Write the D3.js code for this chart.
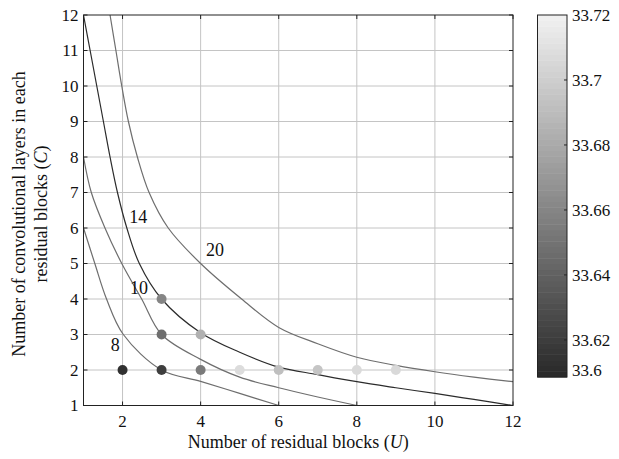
<!DOCTYPE html>
<html>
<head>
<meta charset="utf-8">
<script src="https://cdn.jsdelivr.net/npm/d3@7"></script>
<style>
  body { margin: 0; background: #fff; }
  text { font-family: "Liberation Serif", "Times New Roman", serif; fill: #111; }
</style>
</head>
<body>
<div id="chart"></div>
<script>

let width = 619;
let height = 459;

// contour lines of network depth (U, C)
const curve8 = [[1, 6], [1.29, 5], [1.59, 4], [2.02, 3], [3, 2], [4, 1.68], [5, 1.34], [6, 1]];
const curve10 = [[1, 8], [1.2, 7], [1.55, 6], [1.98, 5], [2.49, 4], [3, 3], [4, 2.3], [5, 1.8], [6, 1.5], [7, 1.24], [8, 1]];
const curve14 = [[1, 12], [1.17, 11], [1.34, 10], [1.51, 9], [1.68, 8], [1.87, 7], [2.11, 6], [2.43, 5], [3, 4], [4, 3.05],
    [5, 2.5], [6, 2.08], [7, 1.87], [8, 1.67], [9, 1.5], [10, 1.34], [11, 1.17], [12, 1]];
const curve20 = [[1.68, 12], [1.83, 11], [1.98, 10], [2.15, 9], [2.38, 8], [2.68, 7], [3.17, 6], [4.0, 5], [5.05, 4],
    [6, 3.2], [7, 2.74], [8, 2.36], [9, 2.13], [10, 1.95], [11, 1.8], [12, 1.67]];

const contourLevels = [8, 10, 14, 20];
const contourLines = [curve8, curve10, curve14, curve20];
const labelU = [1.81, 2.42, 2.40, 4.37];
const labelC = [2.70, 4.33, 6.33, 5.38];

// tested configurations and their score (colour)
const pointU = [2, 3, 4, 5, 6, 7, 8, 9, 3, 4, 3];
const pointC = [2, 2, 2, 2, 2, 2, 2, 2, 3, 3, 4];
const pointValue = [33.613, 33.621, 33.654, 33.708, 33.692, 33.695, 33.707, 33.706, 33.647, 33.684, 33.660];

const xTicks = [2, 4, 6, 8, 10, 12];
const yTicks = [1, 2, 3, 4, 5, 6, 7, 8, 9, 10, 11, 12];
const cbMin = 33.6086;
const cbMax = 33.72;
const cbTicks = [33.62, 33.64, 33.66, 33.68, 33.7, 33.72];

let svg = d3.select("#chart")
    .append("svg")
    .attr("width", width)
    .attr("height", height);

let plot = { left: 83.5, right: 513, top: 15, bottom: 405.5 };

let scaleX = d3.scaleLinear().domain([1, 12]).range([plot.left, plot.right]);
let scaleY = d3.scaleLinear().domain([1, 12]).range([plot.bottom, plot.top]);

let cb = { left: 537.5, right: 567, top: 15, bottom: 377 };
let scaleCb = d3.scaleLinear().domain([cbMin, cbMax]).range([cb.bottom, cb.top]);
let gray = d3.scaleLinear().domain([cbMin, cbMax]).range(["rgb(40,40,40)", "rgb(242,242,242)"]);

// grid
svg.append("g")
    .selectAll("line.gx")
    .data(xTicks.filter(d => d < 12))
    .join("line")
    .attr("x1", d => scaleX(d)).attr("x2", d => scaleX(d))
    .attr("y1", plot.top).attr("y2", plot.bottom)
    .attr("stroke", "#c4c4c4").attr("stroke-width", 1);

svg.append("g")
    .selectAll("line.gy")
    .data(yTicks.filter(d => d > 1 && d < 12))
    .join("line")
    .attr("x1", plot.left).attr("x2", plot.right)
    .attr("y1", d => scaleY(d)).attr("y2", d => scaleY(d))
    .attr("stroke", "#c4c4c4").attr("stroke-width", 1);

// contour lines
let line = d3.line()
    .x(d => scaleX(d[0]))
    .y(d => scaleY(d[1]))
    .curve(d3.curveCatmullRom.alpha(0.5));

svg.append("g")
    .selectAll("path")
    .data(contourLines)
    .join("path")
    .attr("d", line)
    .attr("fill", "none")
    .attr("stroke", (d, i) => contourLevels[i] === 14 ? "#2b2b2b" : "#6e6e6e")
    .attr("stroke-width", 1.2);

svg.append("g")
    .selectAll("text")
    .data(contourLevels)
    .join("text")
    .attr("x", (d, i) => scaleX(labelU[i]))
    .attr("y", (d, i) => scaleY(labelC[i]))
    .attr("dy", "0.35em")
    .attr("text-anchor", "middle")
    .attr("font-size", 18)
    .text(d => d);

// points
svg.append("g")
    .selectAll("circle")
    .data(pointValue)
    .join("circle")
    .attr("cx", (d, i) => scaleX(pointU[i]))
    .attr("cy", (d, i) => scaleY(pointC[i]))
    .attr("r", 5)
    .attr("fill", d => gray(d));

// axes box with inward ticks
let frame = svg.append("g").attr("stroke", "#222").attr("stroke-width", 1);
frame.append("rect")
    .attr("x", plot.left).attr("y", plot.top)
    .attr("width", plot.right - plot.left).attr("height", plot.bottom - plot.top)
    .attr("fill", "none");

frame.selectAll("line.tx")
    .data(xTicks.flatMap(d => [[d, plot.bottom, -4], [d, plot.top, 4]]))
    .join("line")
    .attr("x1", d => scaleX(d[0])).attr("x2", d => scaleX(d[0]))
    .attr("y1", d => d[1]).attr("y2", d => d[1] + d[2]);

frame.selectAll("line.ty")
    .data(yTicks.flatMap(d => [[d, plot.left, 4], [d, plot.right, -4]]))
    .join("line")
    .attr("y1", d => scaleY(d[0])).attr("y2", d => scaleY(d[0]))
    .attr("x1", d => d[1]).attr("x2", d => d[1] + d[2]);

svg.append("g")
    .selectAll("text")
    .data(xTicks)
    .join("text")
    .attr("x", d => scaleX(d))
    .attr("y", plot.bottom + 21)
    .attr("text-anchor", "middle")
    .attr("font-size", 17)
    .text(d => d);

svg.append("g")
    .selectAll("text")
    .data(yTicks)
    .join("text")
    .attr("x", plot.left - 5)
    .attr("y", d => scaleY(d))
    .attr("dy", "0.35em")
    .attr("text-anchor", "end")
    .attr("font-size", 17)
    .text(d => d);

// axis titles
let xTitle = svg.append("text")
    .attr("x", (plot.left + plot.right) / 2)
    .attr("y", 448)
    .attr("text-anchor", "middle")
    .attr("font-size", 18);
xTitle.append("tspan").text("Number of residual blocks (");
xTitle.append("tspan").attr("font-style", "italic").text("U");
xTitle.append("tspan").text(")");

let yTitle = svg.append("text")
    .attr("transform", "translate(25," + 214 + ") rotate(-90)")
    .attr("text-anchor", "middle")
    .attr("font-size", 18);
yTitle.append("tspan").attr("x", 0).attr("y", 0).text("Number of convolutional layers in each");
let yTitle2 = svg.append("text")
    .attr("transform", "translate(47," + 214 + ") rotate(-90)")
    .attr("text-anchor", "middle")
    .attr("font-size", 18);
yTitle2.append("tspan").text("residual blocks (");
yTitle2.append("tspan").attr("font-style", "italic").text("C");
yTitle2.append("tspan").text(")");

// colorbar
let bands = d3.range(64).map(i => cbMin + (cbMax - cbMin) * i / 64);
let bandH = (cb.bottom - cb.top) / 64;
svg.append("g")
    .selectAll("rect")
    .data(bands)
    .join("rect")
    .attr("x", cb.left)
    .attr("y", d => scaleCb(d) - bandH)
    .attr("width", cb.right - cb.left)
    .attr("height", bandH + 0.5)
    .attr("fill", d => gray(d + (cbMax - cbMin) / 128));

svg.append("rect")
    .attr("x", cb.left).attr("y", cb.top)
    .attr("width", cb.right - cb.left).attr("height", cb.bottom - cb.top)
    .attr("fill", "none").attr("stroke", "#222");

svg.append("g")
    .selectAll("line")
    .data(cbTicks.slice(0, -1))
    .join("line")
    .attr("x1", cb.right).attr("x2", cb.right - 3)
    .attr("y1", d => scaleCb(d)).attr("y2", d => scaleCb(d))
    .attr("stroke", "#222");

svg.append("g")
    .selectAll("text")
    .data(cbTicks)
    .join("text")
    .attr("x", cb.right + 5)
    .attr("y", d => scaleCb(d))
    .attr("dy", "0.35em")
    .attr("font-size", 17)
    .text(d => d);

svg.append("text")
    .attr("x", cb.right + 5)
    .attr("y", scaleCb(cbMin) - 7)
    .attr("dy", "0.35em")
    .attr("font-size", 17)
    .text("33.6");

</script>
</body>
</html>
